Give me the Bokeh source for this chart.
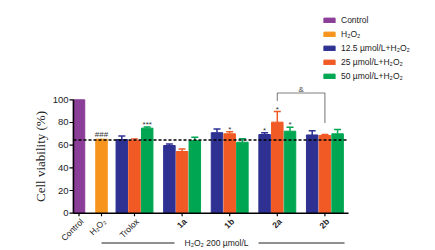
import math
from bokeh.plotting import figure
from bokeh.models import Range1d, ColumnDataSource
from bokeh.core.properties import value
from bokeh.embed import file_html
from bokeh.resources import INLINE

# ---------------- data ----------------
tick_labels = ["Control", "H₂O₂", "Trolox", "1a", "1b", "2a", "2b"]
tick_styles = ["normal", "normal", "normal", "bold", "bold", "bold", "bold"]
groups = ["Trolox", "1a", "1b", "2a", "2b"]

control_value = [100]
h2o2_value = [65.2]
h2o2_err = [0.6]

series_names = ["12.5 µmol/L+H₂O₂", "25 µmol/L+H₂O₂", "50 µmol/L+H₂O₂"]
vals_12 = [65.0, 59.7, 71.0, 69.4, 69.0]
err_12 = [3.0, 1.3, 3.2, 1.6, 3.7]
vals_25 = [64.0, 54.4, 70.0, 80.3, 68.5]
err_25 = [1.5, 2.3, 1.8, 9.4, 0.9]
vals_50 = [75.0, 64.0, 62.6, 72.3, 70.0]
err_50 = [1.0, 3.0, 3.0, 3.5, 3.8]

y_ticks = [0, 20, 40, 60, 80, 100]
y_tick_labels = ["0", "20", "40", "60", "80", "100"]
h2o2_level = 64.5

marks = [("h2o2", 0, "###"), (2, 0, "***"), (1, 2, "*"), (0, 3, "*"), (1, 3, "*"), (2, 3, "*")]
bracket_top, bracket_left_end, bracket_right_end = 106.0, 99.0, 79.5

# ---------------- style / layout ----------------
c_purple = "#8b3e97"
c_orange = "#f7941d"
c_blue = "#2e3192"
c_red = "#f15a24"
c_green = "#00a651"
series_colors = [c_blue, c_red, c_green]

x_axis_left, x_axis_right = 73, 348
x_control, x_h2o2 = 78.5, 101.0
group_start, group_step, bar_step, bar_w = 134.0, 47.6, 12.7, 11.5
group_x = [group_start + group_step * i for i in range(len(groups))]
tick_x = [x_control, x_h2o2] + group_x

W, H = 435, 250
y0_px, px = 212.7, 1.134  # screen row of 0 %, px per % unit

p = figure(width=W, height=H, output_backend="svg", toolbar_location=None,
           x_range=Range1d(0, W), y_range=Range1d((y0_px - H) / px, y0_px / px),
           x_axis_location=None, y_axis_location=None,
           min_border_left=0, min_border_right=0, min_border_top=0, min_border_bottom=0)
p.outline_line_color = None
p.grid.visible = False
p.background_fill_color = "white"

# bars
p.vbar(x=[x_control], top=control_value, width=bar_w, color=c_purple, legend_label="Control")
p.vbar(x=[x_h2o2], top=h2o2_value, width=bar_w, color=c_orange, legend_label="H₂O₂")
cap = 7.0
p.segment(x0=[x_h2o2], y0=h2o2_value, x1=[x_h2o2], y1=[h2o2_value[0] + h2o2_err[0]], color=c_orange, line_width=1.5)
all_vals = [vals_12, vals_25, vals_50]
all_errs = [err_12, err_25, err_50]
for s, (vals, errs, col, name) in enumerate(zip(all_vals, all_errs, series_colors, series_names)):
    xs = [g + (s - 1) * bar_step for g in group_x]
    p.vbar(x=xs, top=vals, width=bar_w, color=col, legend_label=name)
    tops = [v + e for v, e in zip(vals, errs)]
    p.segment(x0=xs, y0=vals, x1=xs, y1=tops, color=col, line_width=1.5)
    p.segment(x0=[x - cap / 2 for x in xs], y0=tops, x1=[x + cap / 2 for x in xs], y1=tops,
              color=col, line_width=1.5)

# dashed H2O2 reference line
p.segment(x0=[x_axis_left], y0=[h2o2_level], x1=[x_axis_right], y1=[h2o2_level],
          color="black", line_width=1.4, line_dash="3 2")

# axes lines and ticks
p.segment(x0=[x_axis_left], y0=[0], x1=[x_axis_left], y1=[y_ticks[-1]], color="black", line_width=1.5)
p.segment(x0=[x_axis_left - 4] * len(y_ticks), y0=y_ticks, x1=[x_axis_left] * len(y_ticks), y1=y_ticks,
          color="black", line_width=1.2)
p.segment(x0=[x_axis_left], y0=[0], x1=[x_axis_right], y1=[0], color="black", line_width=1.5)
p.segment(x0=tick_x, y0=[0] * len(tick_x), x1=tick_x, y1=[-2.6] * len(tick_x), color="black", line_width=1.2)

# y tick labels and title
p.text(x=[x_axis_left - 5] * len(y_ticks), y=y_ticks, text=y_tick_labels, text_align="right",
       text_baseline="middle", text_font=value("Liberation Sans"), text_font_size="9.5px",
       text_color="#222222")
p.text(x=[40], y=[(y_ticks[0] + y_ticks[-1]) / 2], text=["Cell viability (%)"], angle=math.pi / 2,
       text_align="center", text_baseline="middle", text_font=value("Liberation Serif"),
       text_font_size="13px", text_color="#222222")

# rotated x tick labels
lab_src = ColumnDataSource(dict(x=[t + 3 for t in tick_x], y=[-6.0] * len(tick_x),
                                text=tick_labels, style=tick_styles))
p.text(x="x", y="y", text="text", source=lab_src, angle=math.pi / 4, text_align="right",
       text_baseline="middle", text_font=value("Liberation Sans"), text_font_size="8.5px",
       text_font_style="style", text_color="#222222")

# significance marks
mx, my, mt = [], [], []
for s, gi, t in marks:
    if s == "h2o2":
        mx.append(x_h2o2)
        my.append(h2o2_value[0] + h2o2_err[0] + 3.5)
    else:
        mx.append(group_x[gi] + (s - 1) * bar_step)
        my.append(all_vals[s][gi] + all_errs[s][gi] + 2.0)
    mt.append(t)
p.text(x=mx, y=my, text=mt, text_align="center", text_baseline="alphabetic",
       text_font=value("Liberation Sans"), text_font_size="8px", text_color="#333333")

# bracket between 2a and 2b
bl = group_x[3]
br = group_x[4]
p.line(x=[bl, bl, br, br], y=[bracket_left_end, bracket_top, bracket_top, bracket_right_end],
       color="#808080", line_width=1.1)
p.text(x=[(bl + br) / 2], y=[bracket_top + 3.5], text=["&"], text_align="center",
       text_baseline="alphabetic", text_font=value("Liberation Sans"), text_font_size="8px",
       text_color="#444444")

# H2O2 200 µmol/L line label
bottom_y = -26.3
p.segment(x0=[x_h2o2, 258], y0=[bottom_y, bottom_y], x1=[174, 344], y1=[bottom_y, bottom_y],
          color="#222222", line_width=1.2)
p.text(x=[(174 + 258) / 2], y=[bottom_y], text=["H₂O₂ 200 µmol/L"], text_align="center",
       text_baseline="middle", text_font=value("Liberation Sans"), text_font_size="8.5px",
       text_color="#222222")

# legend
lg = p.legend[0]
lg.location = (322, 169)
lg.border_line_color = None
lg.background_fill_alpha = 0
lg.padding = 2
lg.margin = 0
lg.spacing = 4
lg.glyph_width = 14
lg.glyph_height = 6
lg.label_height = 10
lg.label_standoff = 5
lg.label_text_font = "Liberation Sans"
lg.label_text_font_size = "8.5px"
lg.label_text_color = "#222222"

open("out.html", "w").write(file_html(p, INLINE))
